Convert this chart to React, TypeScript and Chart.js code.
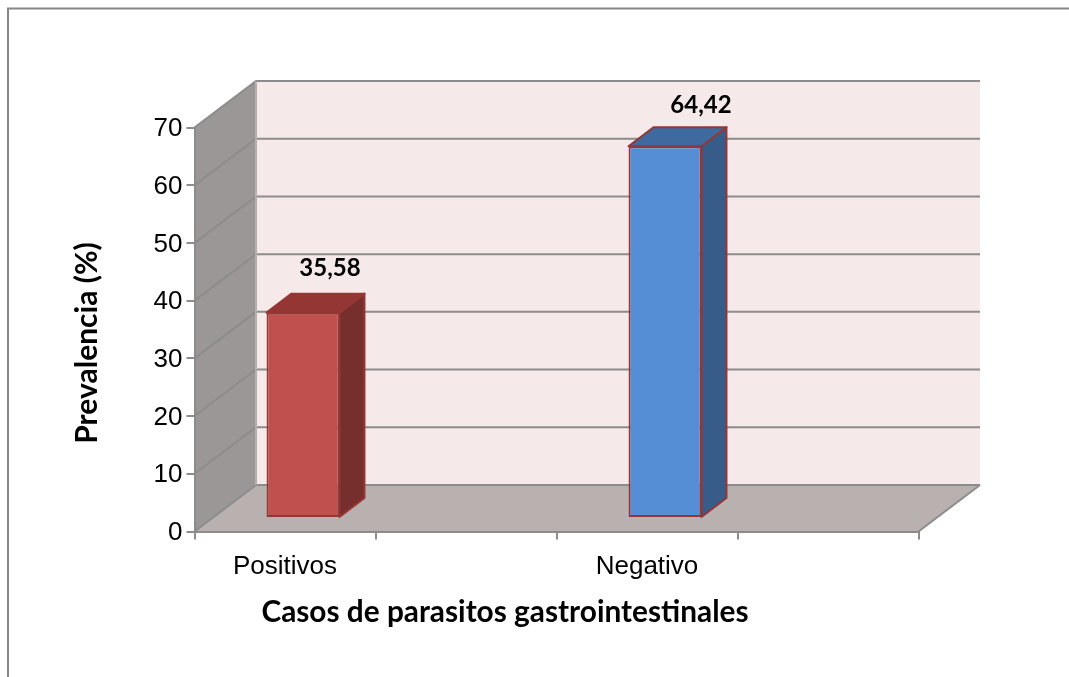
import React, { useEffect, useRef } from "react";
import { Chart, registerables } from "chart.js";

Chart.register(...registerables);

const categories = ["Positivos", "", "Negativo", ""];
const prevalencia = [35.58, null, 64.42, null];
const valueLabels = ["35,58", "", "64,42", ""];
const yTitle = "Prevalencia (%)";
const xTitle = "Casos de parasitos gastrointestinales";
const frontColors = ["#c0504d", "#c0504d", "#558ed5", "#558ed5"];
const topColors = ["#943634", "#943634", "#3f6a9f", "#3f6a9f"];
const sideColors = ["#772f2d", "#772f2d", "#375c8a", "#375c8a"];
const labelLift = [58, 0, 54, 0];
const labelShift = [45, 0, 54, 0];

const WALL = { dx: 61.5, dy: -46.5 };
const BAR = { dx: 18, dy: -13.5, depthX: 25, depthY: -19 };
const GRID = "#8c8c8c";

const threeD = {
  id: "threeD",
  beforeDraw(chart: any) {
    const { ctx, scales } = chart;
    const x = scales.x;
    const y = scales.y;
    const l = x.left, r = x.right, b = y.bottom, t = y.top;
    ctx.save();
    ctx.fillStyle = "#ffffff";
    ctx.fillRect(0, 0, chart.width, chart.height);
    // outer frame
    ctx.strokeStyle = "#868686";
    ctx.lineWidth = 2;
    ctx.beginPath();
    ctx.moveTo(8, chart.height);
    ctx.lineTo(8, 8.5);
    ctx.lineTo(chart.width, 8.5);
    ctx.stroke();
    // back wall
    ctx.fillStyle = "#f5e9e9";
    ctx.fillRect(l + WALL.dx, t + WALL.dy, r - l, b - t);
    // side wall
    ctx.fillStyle = "#9b9796";
    ctx.beginPath();
    ctx.moveTo(l, b);
    ctx.lineTo(l, t);
    ctx.lineTo(l + WALL.dx, t + WALL.dy);
    ctx.lineTo(l + WALL.dx, b + WALL.dy);
    ctx.closePath();
    ctx.fill();
    // floor
    ctx.fillStyle = "#b9b0b0";
    ctx.beginPath();
    ctx.moveTo(l, b);
    ctx.lineTo(r, b);
    ctx.lineTo(r + WALL.dx, b + WALL.dy);
    ctx.lineTo(l + WALL.dx, b + WALL.dy);
    ctx.closePath();
    ctx.fill();
    // grid lines on both walls, from the y scale's ticks
    ctx.strokeStyle = GRID;
    ctx.lineWidth = 2;
    y.ticks.forEach((tk: any) => {
      const py = y.getPixelForValue(tk.value);
      ctx.beginPath();
      ctx.moveTo(l, py);
      ctx.lineTo(l + WALL.dx, py + WALL.dy);
      ctx.lineTo(r + WALL.dx, py + WALL.dy);
      ctx.stroke();
    });
    ctx.beginPath();
    ctx.moveTo(r, b);
    ctx.lineTo(r + WALL.dx, b + WALL.dy);
    ctx.stroke();
    ctx.beginPath();
    ctx.moveTo(l + WALL.dx, t + WALL.dy);
    ctx.lineTo(l + WALL.dx, b + WALL.dy);
    ctx.strokeStyle = "#b5b0b0";
    ctx.stroke();
    ctx.restore();
  },
  beforeDatasetDraw(chart: any, args: any) {
    const { ctx } = chart;
    const meta = chart.getDatasetMeta(args.index);
    ctx.save();
    ctx.translate(BAR.dx, BAR.dy);
    meta.data.forEach((el: any, i: number) => {
      if (prevalencia[i] == null) return;
      const hw = el.width / 2;
      const x0 = el.x - hw, x1 = el.x + hw, yt = el.y, yb = el.base;
      ctx.strokeStyle = "#953735";
      ctx.lineWidth = 2;
      ctx.lineJoin = "round";
      // right side
      ctx.fillStyle = sideColors[i];
      ctx.beginPath();
      ctx.moveTo(x1, yt);
      ctx.lineTo(x1 + BAR.depthX, yt + BAR.depthY);
      ctx.lineTo(x1 + BAR.depthX, yb + BAR.depthY);
      ctx.lineTo(x1, yb);
      ctx.closePath();
      ctx.fill();
      ctx.stroke();
      // top
      ctx.fillStyle = topColors[i];
      ctx.beginPath();
      ctx.moveTo(x0, yt);
      ctx.lineTo(x0 + BAR.depthX, yt + BAR.depthY);
      ctx.lineTo(x1 + BAR.depthX, yt + BAR.depthY);
      ctx.lineTo(x1, yt);
      ctx.closePath();
      ctx.fill();
      ctx.stroke();
    });
  },
  afterDatasetDraw(chart: any) {
    chart.ctx.restore();
  },
  afterDraw(chart: any) {
    const { ctx } = chart;
    const meta = chart.getDatasetMeta(0);
    ctx.save();
    ctx.fillStyle = "#000000";
    ctx.textAlign = "center";
    ctx.textBaseline = "middle";
    ctx.font = "bold 24px Lato";
    meta.data.forEach((el: any, i: number) => {
      if (!valueLabels[i]) return;
      ctx.fillText(valueLabels[i], el.x + labelShift[i], el.y - labelLift[i]);
    });
    ctx.font = "bold 29.8px Lato";
    ctx.fillText(xTitle, 505, 612);
    ctx.font = "bold 30px Lato";
    ctx.translate(87, 343);
    ctx.rotate(-Math.PI / 2);
    ctx.fillText(yTitle, 0, 0);
    ctx.restore();
  },
};

export default function App() {
  const ref = useRef<HTMLCanvasElement>(null);
  useEffect(() => {
    const chart = new Chart(ref.current!, {
      type: "bar",
      data: {
        labels: categories,
        datasets: [
          {
            data: prevalencia,
            backgroundColor: frontColors,
            borderColor: "#953735",
            borderWidth: 2,
            borderSkipped: false,
            barPercentage: 0.403,
            categoryPercentage: 1,
          },
        ],
      },
      options: {
        responsive: false,
        animation: false,
        layout: { padding: { left: 0, right: 150.5, top: 127.5, bottom: 0 } },
        plugins: { legend: { display: false }, tooltip: { enabled: false } },
        scales: {
          x: {
            offset: true,
            afterFit: (s: any) => { s.height = 145.5; },
            border: { color: GRID, width: 2 },
            grid: { offset: true, drawOnChartArea: false, color: GRID, lineWidth: 2, tickLength: 8 },
            ticks: { color: "#000000", font: { family: "Liberation Sans", size: 26 }, padding: 12, maxRotation: 0, autoSkip: false },
          },
          y: {
            min: 0,
            max: 70,
            afterFit: (s: any) => { s.width = 194.5; },
            border: { color: GRID, width: 2 },
            grid: { drawOnChartArea: false, color: GRID, lineWidth: 2, tickLength: 8 },
            ticks: { stepSize: 10, color: "#000000", font: { family: "Liberation Sans", size: 26 }, padding: 4, labelOffset: 1.5 },
          },
        },
      },
      plugins: [threeD],
    } as any);
    return () => chart.destroy();
  }, []);
  return (
    <div style={{ position: "fixed", left: 0, top: 0, width: 1069, height: 677 }}>
      <canvas ref={ref} width={1069} height={677} style={{ display: "block" }} />
    </div>
  );
}
